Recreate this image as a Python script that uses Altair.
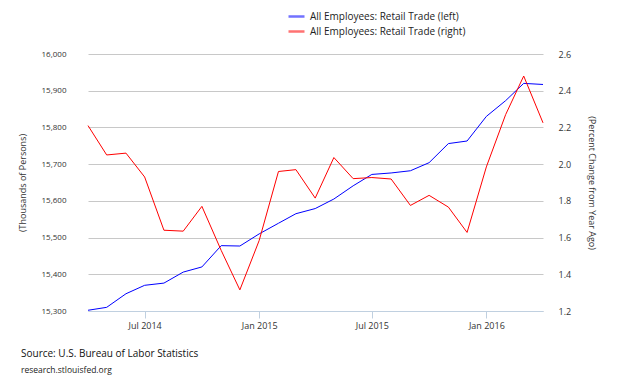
import altair as alt
import pandas as pd

dates = ["2014/04/01", "2014/05/01", "2014/06/01", "2014/07/01", "2014/08/01", "2014/09/01",
         "2014/10/01", "2014/11/01", "2014/12/01", "2015/01/01", "2015/02/01", "2015/03/01",
         "2015/04/01", "2015/05/01", "2015/06/01", "2015/07/01", "2015/08/01", "2015/09/01",
         "2015/10/01", "2015/11/01", "2015/12/01", "2016/01/01", "2016/02/01", "2016/03/01",
         "2016/04/01"]
employees = [15302, 15310, 15347, 15370, 15376, 15406, 15420, 15478, 15477, 15510, 15539, 15565,
             15579, 15605, 15641, 15672, 15676, 15682, 15704, 15756, 15763, 15830, 15873, 15920,
             15917]
pct_change = [2.21, 2.05, 2.06, 1.93, 1.64, 1.635, 1.77, 1.53, 1.315, 1.584, 1.96, 1.97,
              1.815, 2.036, 1.921, 1.927, 1.919, 1.775, 1.83, 1.766, 1.628, 1.985, 2.27, 2.48,
              2.225]
left_name = "All Employees: Retail Trade (left)"
right_name = "All Employees: Retail Trade (right)"
left_ticks = [15300, 15400, 15500, 15600, 15700, 15800, 15900, 16000]
right_ticks = [1.2, 1.4, 1.6, 1.8, 2.0, 2.2, 2.4, 2.6]

df = pd.DataFrame({"date": dates, "emp": employees, "pct": pct_change})

FONT = "Open Sans"
LABEL = "#333333"

color = alt.Color(
    "series:N",
    scale=alt.Scale(domain=[left_name, right_name], range=["#0000ff", "#ff0000"]),
    legend=alt.Legend(
        title=None, orient="none", legendX=199, legendY=-47,
        symbolType="stroke", symbolSize=256, symbolStrokeWidth=2.5, symbolOpacity=0.55,
        labelFontSize=10, labelFont=FONT, labelColor="#222222", rowPadding=-3,
        symbolOffset=0, labelOffset=4,
    ),
)

xenc = alt.X(
    "date:T",
    scale=alt.Scale(domain=[alt.DateTime(year=2014, month=4, date=1),
                            alt.DateTime(year=2016, month=4, date=1)], nice=False),
    axis=alt.Axis(
        title=None, format="%b %Y", grid=False,
        values=[alt.DateTime(year=2014, month=7, date=1), alt.DateTime(year=2015, month=1, date=1),
                alt.DateTime(year=2015, month=7, date=1), alt.DateTime(year=2016, month=1, date=1)],
        domain=True, domainColor="#c0d0e0", tickColor="#c0d0e0", tickSize=7, labelPadding=3,
        labelFontSize=9, labelFont=FONT, labelColor=LABEL,
    ),
)

left = alt.Chart(df).transform_calculate(series=f"'{left_name}'").mark_line(
    strokeWidth=1
).encode(
    x=xenc,
    y=alt.Y("emp:Q", scale=alt.Scale(domain=[15300, 16000], nice=False, zero=False),
            axis=alt.Axis(title="(Thousands of Persons)", values=left_ticks, format=",.0f",
                          orient="left", domain=False, ticks=False, labelPadding=22,
                          grid=True, gridColor="#c8c8c8", labelFontSize=8, labelFont=FONT,
                          labelColor=LABEL, titleFontSize=9, titleFont=FONT,
                          titleFontWeight="normal", titleColor=LABEL, titlePadding=14)),
    color=color,
)

right = alt.Chart(df).transform_calculate(series=f"'{right_name}'").mark_line(
    strokeWidth=1
).encode(
    x=xenc,
    y=alt.Y("pct:Q", scale=alt.Scale(domain=[1.2, 2.6], nice=False, zero=False),
            axis=alt.Axis(title="(Percent Change from Year Ago)", values=right_ticks, format=".1f",
                          orient="right", domain=False, ticks=False, grid=False, labelPadding=15,
                          labelFontSize=9, labelFont=FONT, labelColor=LABEL,
                          titleFontSize=9, titleFont=FONT, titleFontWeight="normal",
                          titleColor=LABEL, titlePadding=16, titleAngle=90)),
    color=color,
)

chart = alt.layer(left, right).resolve_scale(y="independent").properties(
    width=455, height=257,
    background="white",
    autosize=alt.AutoSizeParams(type="none"),
    padding={"left": 80, "top": 46, "right": 70, "bottom": 66},
    title=alt.TitleParams(
        text="Source: U.S. Bureau of Labor Statistics",
        subtitle="research.stlouisfed.org",
        orient="bottom", anchor="start", frame="group", dx=-67, offset=19,
        font=FONT, fontSize=10, fontWeight="normal", color="#111111",
        subtitleFont=FONT, subtitleFontSize=8.5, subtitleColor="#222222", subtitlePadding=7,
    ),
).configure_view(
    stroke="transparent", strokeWidth=0
).configure_axisY(
    domain=False, ticks=False
)

chart.save("out.html", embed_options={"renderer": "svg", "actions": False})
